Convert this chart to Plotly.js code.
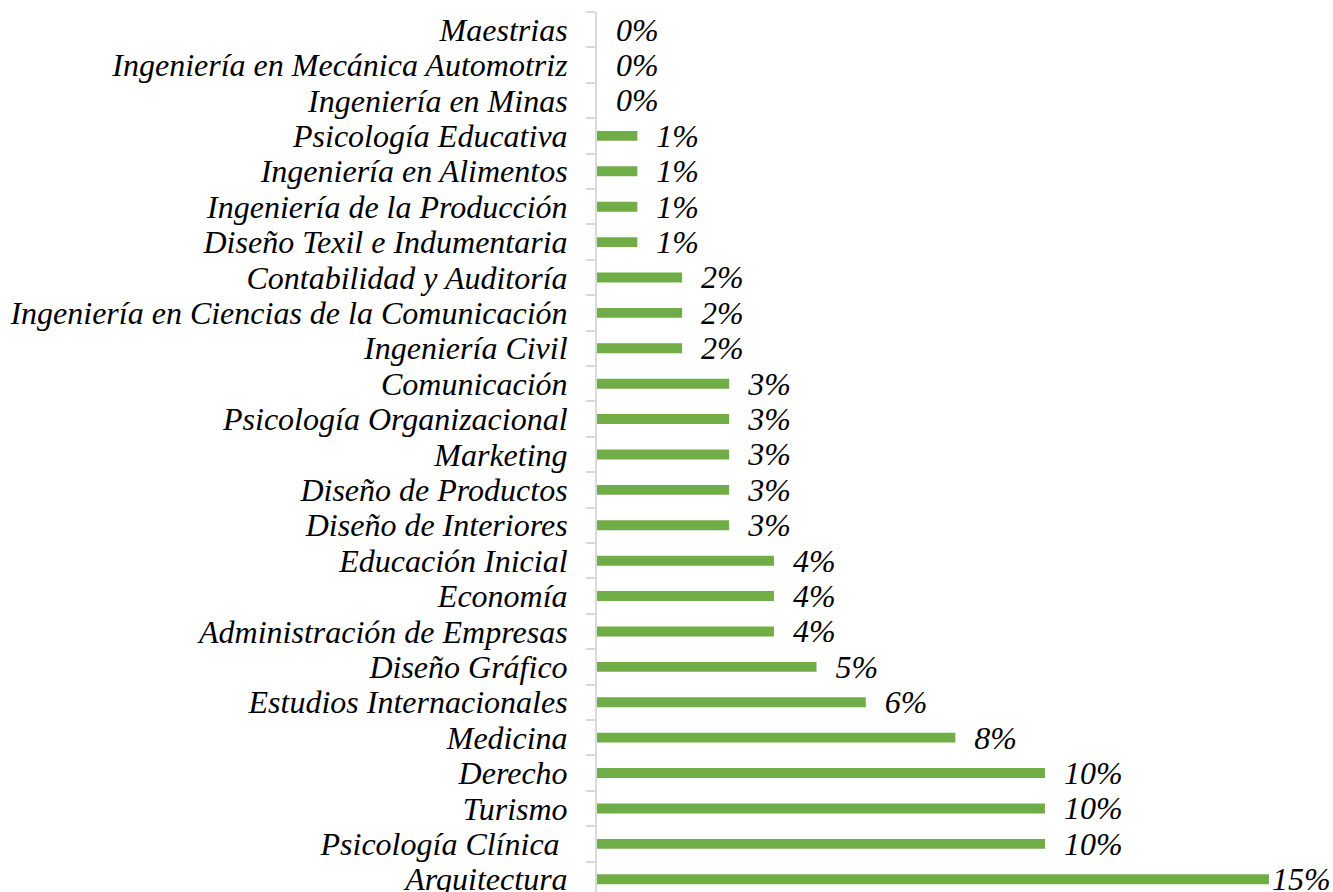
<!DOCTYPE html>
<html><head><meta charset="utf-8">
<script src="https://cdn.plot.ly/plotly-3.0.1.min.js"></script>
<style>html,body{margin:0;padding:0;background:#fff}</style>
</head><body>
<div id="chart" style="width:1333px;height:892px"></div>
<script>
const categories = ["Arquitectura","Psicología Clínica\u00a0","Turismo","Derecho","Medicina","Estudios Internacionales","Diseño Gráfico","Administración de Empresas","Economía","Educación Inicial","Diseño de Interiores","Diseño de Productos","Marketing","Psicología Organizacional","Comunicación","Ingeniería Civil","Ingeniería en Ciencias de la Comunicación","Contabilidad y Auditoría","Diseño Texil e Indumentaria","Ingeniería de la Producción","Ingeniería en Alimentos","Psicología Educativa","Ingeniería en Minas","Ingeniería en Mecánica Automotriz","Maestrias"];
const values = [15.0,10.0,10.0,10.0,8.0,6.0,4.9,3.95,3.95,3.95,2.95,2.95,2.95,2.95,2.95,1.9,1.9,1.9,0.9,0.9,0.9,0.9,0,0,0];
const maxV = Math.max(...values);
const labels = values.map(v => (v >= maxV ? '' : '\u00a0\u00a0') + Math.round(v) + '%');

const fontFam = 'Liberation Serif, Times New Roman, serif';
Plotly.newPlot('chart', [{
  type: 'bar', orientation: 'h',
  x: values, y: categories,
  marker: {color: '#70AD47'},
  text: labels, textposition: 'outside', cliponaxis: false, constraintext: 'none',
  textfont: {family: fontFam, size: 32, style: 'italic', color: '#000'},
  hoverinfo: 'none'
}], {
  width: 1333, height: 892,
  margin: {l: 597, r: 0, t: 12, b: 0},
  paper_bgcolor: '#fff', plot_bgcolor: '#fff',
  bargap: 0.72,
  showlegend: false,
  font: {family: fontFam},
  xaxis: {range: [0, 16.43], visible: false, fixedrange: true},
  yaxis: {
    type: 'category', range: [-0.36, 24.5],
    tickmode: 'linear', tick0: 0, dtick: 1,
    showline: true, linecolor: '#d9d9d9', linewidth: 2,
    ticks: 'outside', ticklen: 9, tickcolor: '#d9d9d9', tickwidth: 2,
    tickson: 'boundaries', showgrid: false, zeroline: false,
    ticklabelstandoff: 21,
    tickfont: {family: fontFam, size: 32, style: 'italic', color: '#000'}
  }
}, {staticPlot: true});
</script>
</body></html>
